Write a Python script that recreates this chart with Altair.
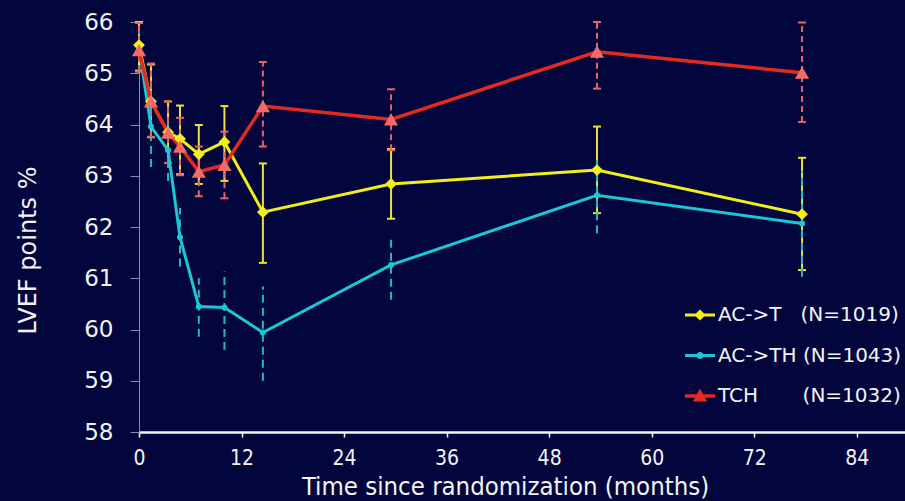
import altair as alt
import pandas as pd

# ---- data ----
months = [0, 1.4, 3.4, 4.8, 7.0, 10.0, 14.5, 29.5, 53.6, 77.6]

series_names = ["AC->T", "AC->TH", "TCH"]
series_n = ["(N=1019)", "(N=1043)", "(N=1032)"]

act_mean = [65.55, 64.45, 63.85, 63.72, 63.42, 63.66, 62.29, 62.84, 63.11, 62.25]
act_lo = [65.05, 63.75, 63.25, 63.03, 62.84, 62.90, 61.30, 62.16, 62.27, 61.16]
act_hi = [66.00, 65.17, 64.45, 64.37, 63.99, 64.36, 63.24, 63.52, 63.96, 63.35]

acth_mean = [65.50, 63.96, 63.50, 61.80, 60.45, 60.43, 59.94, 61.26, 62.62, 62.07]
acth_lo = [65.00, 63.17, 62.90, 61.23, 59.86, 59.60, 59.00, 60.58, 61.88, 61.03]
acth_hi = [66.00, 64.75, 64.10, 62.37, 61.00, 61.13, 60.84, 61.84, 63.36, 63.10]

tch_mean = [65.45, 64.45, 63.84, 63.57, 63.08, 63.21, 64.36, 64.10, 65.42, 65.01]
tch_lo = [65.03, 63.76, 63.25, 63.01, 62.60, 62.56, 63.57, 63.50, 64.70, 64.05]
tch_hi = [65.98, 65.19, 64.45, 64.13, 63.57, 63.86, 65.22, 64.69, 66.00, 65.99]

x_ticks = [0, 12, 24, 36, 48, 60, 72, 84]
y_ticks = [58, 59, 60, 61, 62, 63, 64, 65, 66]

# ---- styling ----
BG = "#02063c"
YEL, CYA, RED = "#f2ee1c", "#1cc6d4", "#e42a20"
YEL_BAR, CYA_BAR, RED_BAR = "#e8e23a", "#20b8c8", "#e86464"
RED_PT = "#f36b66"

gaps = ["\u2007\u00a0", "\u00a0", "\u2007\u2007\u2007\u00a0"]
legend_labels = [n + g + c for n, g, c in zip(series_names, gaps, series_n)]

legend_paths = [
    "M-1,-0.1H1V0.1H-1Z M0,-0.36L0.38,0L0,0.36L-0.38,0Z",
    "M-1,-0.1H1V0.1H-1Z M0.24,0A0.24,0.24 0 1,1 -0.24,0A0.24,0.24 0 1,1 0.24,0Z",
    "M-1,-0.11H1V0.11H-1Z M0,-0.5L0.47,0.37L-0.47,0.37Z",
]

rows = []
for name, lab, mean, lo, hi in [
    (series_names[0], legend_labels[0], act_mean, act_lo, act_hi),
    (series_names[1], legend_labels[1], acth_mean, acth_lo, acth_hi),
    (series_names[2], legend_labels[2], tch_mean, tch_lo, tch_hi),
]:
    for m, v, l, h in zip(months, mean, lo, hi):
        rows.append({"series": name, "label": lab, "month": m, "value": v, "lo": l, "hi": h})
df = pd.DataFrame(rows)

FONT = "DejaVu Sans"
FONT_C = "'DejaVu Sans Condensed', 'DejaVu Sans', sans-serif"

x_axis = alt.Axis(
    values=x_ticks, title="Time since randomization (months)", grid=False,
    domainColor="#f4f4f4", domainWidth=2.5, tickColor="#f4f4f4", tickWidth=1.5, tickSize=5,
    labelFont=FONT_C, labelFontSize=21, labelColor="#f2f2f2", labelPadding=27,
    labelBaseline="alphabetic", labelFlush=False,
    titleFont=FONT_C, titleFontSize=25.5, titleFontWeight="normal", titleColor="#f2f2f2",
    titleX=366, titleY=62, titleAlign="center", titleBaseline="alphabetic",
)
y_axis = alt.Axis(
    values=y_ticks, title="LVEF points %", grid=False,
    domainColor="#8a8ac0", domainWidth=1, tickColor="#8a8ac0", tickWidth=1, tickSize=9,
    labelFont=FONT, labelFontSize=23, labelColor="#f2f2f2", labelPadding=17,
    labelFlush=False,
    titleFont=FONT, titleFontSize=24, titleFontWeight="normal", titleColor="#f2f2f2",
    titleX=-111, titleY=228, titleAlign="center", titleBaseline="middle", titleAngle=-90,
)
x_scale = alt.Scale(domain=[0, 89.65], nice=False, zero=False)
y_scale = alt.Scale(domain=[58, 66], nice=False, zero=False)


def X():
    return alt.X("month:Q", scale=x_scale, axis=x_axis)


def Y(field):
    return alt.Y(f"{field}:Q", scale=y_scale, axis=y_axis)


base = alt.Chart(df)


def only(name):
    return base.transform_filter(alt.datum.series == name)


layers = []
# error bars
bar_style = {
    series_names[0]: (YEL_BAR, [1, 0], True),
    series_names[1]: (CYA_BAR, [8, 5], False),
    series_names[2]: (RED_BAR, [6, 4], True),
}
for name in [series_names[0], series_names[1], series_names[2]]:
    col, dash, caps = bar_style[name]
    layers.append(
        only(name).mark_rule(color=col, strokeWidth=2, strokeDash=dash).encode(
            x=X(), y=Y("lo"), y2="hi:Q"
        )
    )
    if caps:
        layers.append(
            only(name).transform_fold(["lo", "hi"], as_=["end", "capv"])
            .mark_tick(orient="horizontal", size=8, thickness=2, color=col, opacity=1)
            .encode(x=X(), y=Y("capv"))
        )

# lines
line_style = {series_names[0]: (YEL, 3), series_names[1]: (CYA, 3), series_names[2]: (RED, 3.5)}
for name in [series_names[1], series_names[0], series_names[2]]:
    col, w = line_style[name]
    layers.append(only(name).mark_line(color=col, strokeWidth=w).encode(x=X(), y=Y("value")))

# markers
pt_style = {
    series_names[1]: ("circle", CYA, 36),
    series_names[0]: ("diamond", YEL, 140),
    series_names[2]: ("triangle-up", RED_PT, 200),
}
for name in [series_names[1], series_names[0], series_names[2]]:
    shp, col, sz = pt_style[name]
    layers.append(
        only(name).mark_point(shape=shp, filled=True, color=col, size=sz, opacity=1, strokeWidth=0)
        .encode(x=X(), y=Y("value"))
    )

# legend carrier (no visible marks)
leg = alt.Legend(
    title=None, orient="none", legendX=546, legendY=278, padding=0,
    labelFont=FONT, labelFontSize=20, labelColor="#f2f2f2", labelOffset=3, labelLimit=400,
    symbolSize=900, symbolStrokeWidth=0, symbolOpacity=1, rowPadding=15.5,
)
layers.append(
    base.transform_filter(alt.datum.month < 0)
    .mark_point(filled=True, opacity=1, size=900, strokeWidth=0)
    .encode(
        x=X(), y=Y("value"),
        color=alt.Color("label:N", scale=alt.Scale(domain=legend_labels, range=[YEL, CYA, RED]), legend=leg),
        shape=alt.Shape("label:N", scale=alt.Scale(domain=legend_labels, range=legend_paths), legend=leg),
    )
)

chart = (
    alt.layer(*layers)
    .properties(
        width=766, height=410,
        autosize=alt.AutoSizeParams(type="none"),
        padding={"left": 139, "top": 22, "right": 0, "bottom": 69},
        background=BG,
    )
    .configure_view(stroke="transparent")
)

chart.save("out.html", embed_options={"renderer": "svg", "actions": False})
